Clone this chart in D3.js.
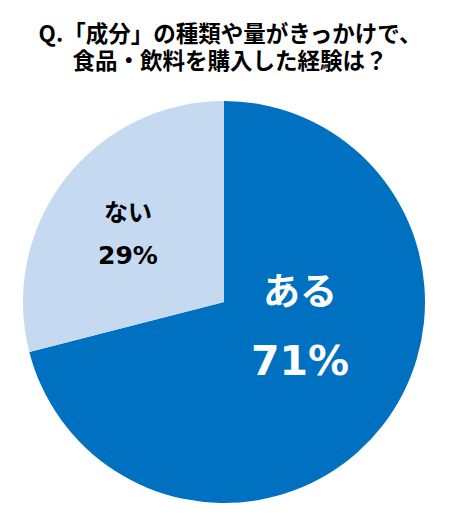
<!DOCTYPE html>
<html><head><meta charset="utf-8">
<script src="https://cdn.jsdelivr.net/npm/d3@7"></script>
<style>html,body{margin:0;padding:0;background:#fff;}</style>
</head><body>
<svg id="c" width="455" height="518"></svg>
<script>
const titleLines = ["Q.「成分」の種類や量がきっかけで、", "食品・飲料を購入した経験は？"];
const categories = ["ある", "ない"];
const values = [71, 29];
const colors = ["#0070C0", "#C5D9F1"];

const svg = d3.select("#c");
const font = "'Noto Sans CJK JP', 'Noto Sans', sans-serif";
const numFont = "'DejaVu Sans', 'Noto Sans', sans-serif";
const cx = 224, cy = 302, r = 201;

const title = svg.append("text")
  .attr("text-anchor","middle").attr("dominant-baseline","central")
  .attr("font-family", font).attr("font-weight", 700).attr("font-size", 22.5)
  .attr("fill","#000");
title.selectAll("tspan").data(titleLines).join("tspan")
  .attr("x", 230).attr("y", (d,i)=> 32 + i*27)
  .attr("dominant-baseline","central")
  .text(d=>d);

const pie = d3.pie().sort(null).value(d=>d.v);
const arcs = pie(categories.map((c,i)=>({c, v: values[i]})));
const arc = d3.arc().innerRadius(0).outerRadius(r);
const g = svg.append("g").attr("transform", `translate(${cx},${cy})`);
g.selectAll("path").data(arcs).join("path")
  .attr("d", arc).attr("fill", (d,i)=>colors[i]);

const labelStyle = [
  {dx: 76, dy: -13, y2: 72, size1: 37, size2: 41, fill: "#fff"},
  {dx: -96, dy: -92, y2: 45, size1: 24, size2: 25, fill: "#000"}
];
arcs.forEach((a,i)=>{
  const s = labelStyle[i];
  g.append("text").attr("x", s.dx).attr("y", s.dy)
    .attr("text-anchor","middle").attr("dominant-baseline","central")
    .attr("font-family", font).attr("font-weight",700).attr("font-size", s.size1)
    .attr("fill", s.fill).text(a.data.c);
  g.append("text").attr("x", s.dx).attr("y", s.dy + s.y2)
    .attr("text-anchor","middle").attr("dominant-baseline","central")
    .attr("font-family", numFont).attr("font-weight",700).attr("font-size", s.size2)
    .attr("fill", s.fill).text(a.data.v + "%");
});
</script>
</body></html>
